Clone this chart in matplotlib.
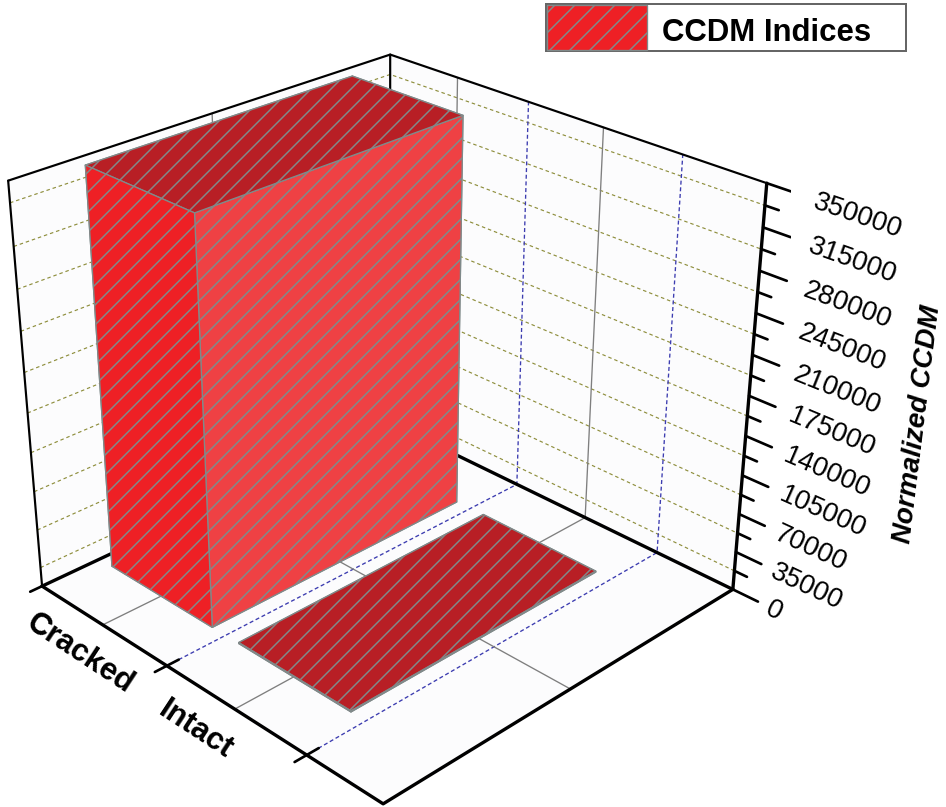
import numpy as np
import matplotlib
matplotlib.use('Agg')
import matplotlib.pyplot as plt
from matplotlib.patches import Rectangle
from mpl_toolkits.mplot3d import proj3d
from mpl_toolkits.mplot3d.art3d import Poly3DCollection

plt.rcParams['font.family'] = ['Liberation Sans', 'DejaVu Sans']
plt.rcParams['hatch.linewidth'] = 0.9

categories = ['Cracked', 'Intact']
category_pos = [1, 2]
ccdm_values = [350000, 900]
z_major = [0, 35000, 70000, 105000, 140000, 175000, 210000, 245000, 280000, 315000, 350000]
z_minor = [17500, 52500, 87500, 122500, 157500, 192500, 227500, 262500, 297500, 332500]
x_between = [1.5, 2.5]
x_start, x_end = 0.5, 3.0
z_top = z_major[-1]

bar_width = 0.8
bar_depth = 0.7
grey = '#7f7f7f'
blue = '#3c3cb0'
olive = '#8e8e3c'

W = 830.97
fig = plt.figure(figsize=(946/120, 807/120), dpi=120)
ax = fig.add_axes([-39.71/946, -14.05/807, W/946, W/807], projection='3d')
ax.set_xlim(x_start, x_end, view_margin=0)
ax.set_ylim(0, 1, view_margin=0)
ax.set_zlim(0, z_top, view_margin=0)
ax.view_init(elev=27.8481, azim=-44.4605, roll=0.0101)
ax.set_proj_type('persp', focal_length=0.5089)
ax.set_box_aspect((1, 1.0008, 0.8961))
ax.set_axis_off()
ax.computed_zorder = False


def line(xs, ys, zs, color='k', lw=1.0, ls='-', zorder=2):
    ax.plot(xs, ys, zs, color=color, lw=lw, ls=ls, zorder=zorder, solid_capstyle='round')


def label(x, y, z, s, along, **kwargs):
    # flat text at the projected spot, turned to follow a 3d direction
    M = ax.get_proj()
    x0, y0, _ = proj3d.proj_transform(x, y, z, M)
    x1, y1, _ = proj3d.proj_transform(x + along[0], y + along[1], z + along[2], M)
    angle = np.degrees(np.arctan2(y1 - y0, x1 - x0))
    fig.text(x0, y0, s, transform=ax.transData, rotation=angle, rotation_mode='anchor', **kwargs)


# walls and floor
walls = [
    [(x_start, 0, 0), (x_end, 0, 0), (x_end, 1, 0), (x_start, 1, 0)],
    [(x_start, 0, 0), (x_start, 1, 0), (x_start, 1, z_top), (x_start, 0, z_top)],
    [(x_start, 1, 0), (x_end, 1, 0), (x_end, 1, z_top), (x_start, 1, z_top)],
]
ax.add_collection3d(Poly3DCollection(walls, facecolors='#fcfcfd', edgecolors='none', zorder=0))

# dashed level lines on both walls
for z in z_minor:
    line([x_start, x_start, x_end], [0, 1, 1], [z, z, z], color=olive, lw=0.7, ls=(0, (3, 2.5)), zorder=1)

# category and separator lines, floor then back wall
for x in category_pos:
    line([x, x, x], [0, 1, 1], [0, 0, z_top], color=grey, lw=0.8, zorder=1)
for x in x_between:
    line([x, x, x], [0, 1, 1], [0, 0, z_top], color=blue, lw=0.8, ls=(0, (3, 2)), zorder=1)
line([x_start, x_end], [0.5, 0.5], [0, 0], color=grey, lw=0.8, zorder=1)
line([x_start, x_start], [0.5, 0.5], [0, z_top], color=grey, lw=0.8, zorder=1)

# back frame
line([x_start, x_start, x_end], [0, 1, 1], [z_top, z_top, z_top], lw=1.3, zorder=1)
line([x_start, x_start], [1, 1], [0, z_top], lw=1.3, zorder=1)
line([x_start, x_start, x_end], [0, 1, 1], [0, 0, 0], lw=2.0, zorder=1)

# bars
bars = ax.bar3d(
    [p - bar_width/2 for p in category_pos],
    [0.5 - bar_depth/2]*len(category_pos),
    [0]*len(category_pos),
    [bar_width]*len(category_pos),
    [bar_depth]*len(category_pos),
    ccdm_values,
    color=['#ee2025', '#b81f25', '#ee2025', '#ee2025', '#ee2025', '#ef4144']*2,
    edgecolor='#808a8a', linewidth=0.8, hatch='//', shade=False, zorder=3)

# front frame
line([x_start, x_start], [0, 0], [0, z_top], lw=1.3, zorder=4)
line([x_start, x_end, x_end], [0, 0, 1], [0, 0, 0], lw=2.0, zorder=4)
line([x_end, x_end], [1, 1], [0, z_top], lw=2.0, zorder=4)

# x ticks
line([x_start, x_start], [-0.03, 0], [0, 0], lw=1.6, zorder=4)
for x in x_between:
    line([x, x], [-0.03, 0.03], [0, 0], lw=1.6, zorder=4)
label_x = [1.125, 2.0]
for p, name in zip(label_x, categories):
    label(p, -0.095, 0, name, (1, 0, 0), fontsize=18.5, fontweight='bold', ha='center', va='center')

# z ticks
for z in z_major:
    line([x_end, x_end + 0.16], [1, 1], [z, z], lw=1.6, zorder=4)
    label(x_end + 0.22 + 0.05*z/z_top, 1, z - 1500, str(z), (1, 0, 0), fontsize=16.4, ha='left', va='center')
for z in z_minor:
    line([x_end, x_end + 0.08], [1, 1], [z, z], lw=1.6, zorder=4)
label(x_end + 0.8, 1.1, 184000, 'Normalized CCDM', (0, 0, 10000), fontsize=16.6, style='italic',
      fontweight='bold', ha='center', va='center')

# legend box
fig.add_artist(Rectangle((546/946, 1 - 51/807), 360/946, 47/807, transform=fig.transFigure,
                         facecolor='white', edgecolor='#666666', lw=1.2))
fig.add_artist(Rectangle((547/946, 1 - 50/807), 100/946, 45/807, transform=fig.transFigure,
                         facecolor='#ee2025', edgecolor='#808a8a', lw=0.8, hatch='//'))
fig.text(662/946, 1 - 33/807, 'CCDM Indices', fontsize=18.7, fontweight='bold', ha='left', va='center')

fig.savefig('out.png')
